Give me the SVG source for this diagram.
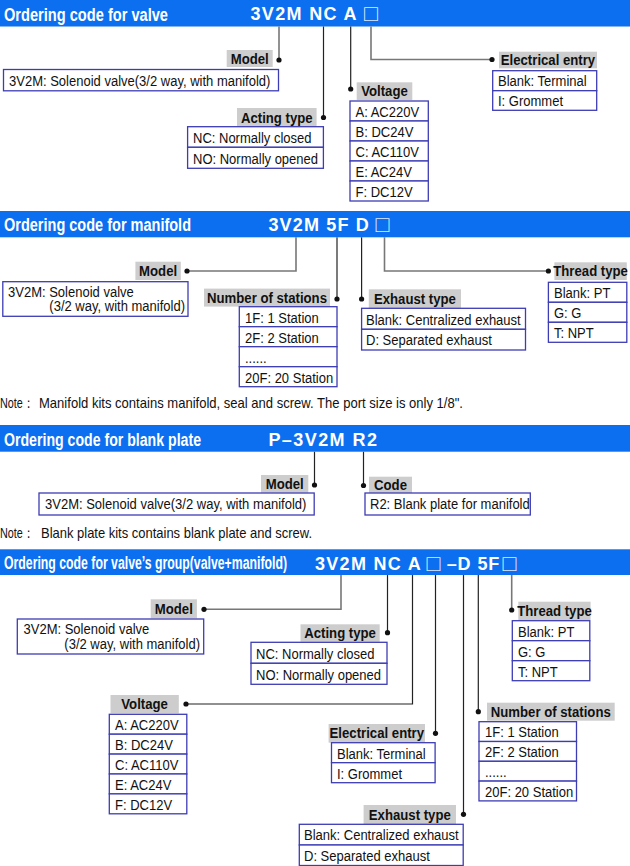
<svg xmlns="http://www.w3.org/2000/svg" width="630" height="866" viewBox="0 0 630 866">
<style>
.bar{fill:#0b6ff0}
.ttl{font-family:"Liberation Sans",Arial,sans-serif;font-weight:bold;font-size:18px;fill:#fff}
.code{font-family:"Liberation Sans",Arial,sans-serif;font-weight:bold;font-size:18px;fill:#fff}
.sq{font-family:"Liberation Sans","DejaVu Sans",sans-serif;font-size:23px;fill:#dfe8ff}
.lbg{fill:#cdcdcd}
.lt{font-family:"Liberation Sans",Arial,sans-serif;font-weight:bold;font-size:15.5px;fill:#111;text-anchor:middle;transform:scaleX(.85);transform-box:fill-box;transform-origin:50% 50%}
.cell{fill:#fff;stroke:#3c3cb4;stroke-width:1.3}
.ct{font-family:"Liberation Sans",Arial,sans-serif;font-size:15.5px;fill:#111;transform:scaleX(.84);transform-box:fill-box;transform-origin:0 50%}
.ce{text-anchor:end;transform-origin:100% 50%}
.note{font-family:"Liberation Sans",Arial,sans-serif;font-size:14.5px;fill:#111}
.lg{fill:none;stroke:#777;stroke-width:1.6}
.lk{fill:none;stroke:#222;stroke-width:1.2}
.dot{fill:#111}
</style>

<!-- Section 1 -->
<g id="header-valve">
<rect class="bar" x="0" y="0" width="630" height="26.5"/>
<text class="ttl" x="4" y="20.5" textLength="164" lengthAdjust="spacingAndGlyphs">Ordering code for valve</text>
<text class="code" x="250.5" y="20" textLength="106">3V2M NC A</text>
<text class="sq" x="364" y="21">□</text>
</g>

<g id="connectors">
<path class="lg" d="M279,26.5 V60"/>
<path class="lk" d="M323.5,26.5 V117.5"/>
<path class="lk" d="M350.7,26.5 V89"/>
<path class="lg" d="M371,26.5 V59.5 H492"/>
<circle class="dot" cx="279" cy="60" r="2.6"/>
<circle class="dot" cx="323.5" cy="117.5" r="2.6"/>
<circle class="dot" cx="350.7" cy="89" r="2.6"/>
<circle class="dot" cx="492" cy="59.5" r="2.6"/>

<path class="lg" d="M296,237.3 V271 H187"/>
<path class="lk" d="M337,237.3 V299"/>
<path class="lk" d="M361.6,237.3 V299"/>
<path class="lg" d="M384.5,237.3 V271 H548.4"/>
<circle class="dot" cx="187" cy="271" r="2.6"/>
<circle class="dot" cx="337" cy="299" r="2.6"/>
<circle class="dot" cx="361.6" cy="299" r="2.6"/>
<circle class="dot" cx="548.4" cy="271" r="2.6"/>

<path class="lk" d="M314.5,451.7 V485"/>
<path class="lk" d="M363.5,451.7 V485.5"/>
<circle class="dot" cx="314.5" cy="485" r="2.6"/>
<circle class="dot" cx="363.5" cy="485.5" r="2.6"/>

<path class="lg" d="M341,575 V609.3 H204"/>
<path class="lk" d="M387.5,575 V632.7"/>
<path class="lk" d="M412.5,575 V704 H186"/>
<path class="lk" d="M435.5,575 V733.3"/>
<path class="lk" d="M463.5,575 V814.3"/>
<path class="lk" d="M478.3,575 V711.7"/>
<path class="lg" d="M511.7,575 V610"/>
<circle class="dot" cx="204" cy="609.3" r="2.6"/>
<circle class="dot" cx="387.5" cy="632.7" r="2.6"/>
<circle class="dot" cx="186" cy="704" r="2.6"/>
<circle class="dot" cx="435.5" cy="733.3" r="2.6"/>
<circle class="dot" cx="463.5" cy="814.3" r="2.6"/>
<circle class="dot" cx="478.3" cy="711.7" r="2.6"/>
<circle class="dot" cx="511.7" cy="610" r="2.6"/>
</g>

<g id="valve-model">
<rect class="lbg" x="226.7" y="50" width="46" height="17"/>
<text class="lt" x="249.7" y="64">Model</text>
<rect class="cell" x="3.5" y="69.5" width="275" height="21.3"/>
<text class="ct" x="9" y="86">3V2M: Solenoid valve(3/2 way, with manifold)</text>
</g>

<g id="valve-acting">
<rect class="lbg" x="237" y="108" width="79.6" height="18.7"/>
<text class="lt" x="276.8" y="123">Acting type</text>
<rect class="cell" x="187.6" y="126.7" width="135.8" height="20.6"/>
<rect class="cell" x="187.6" y="147.3" width="135.8" height="21"/>
<text class="ct" x="193" y="143">NC: Normally closed</text>
<text class="ct" x="193" y="164">NO: Normally opened</text>
</g>

<g id="valve-voltage">
<rect class="lbg" x="356.7" y="82.3" width="55.6" height="17.7"/>
<text class="lt" x="384.5" y="96.5">Voltage</text>
<rect class="cell" x="350" y="101" width="78.3" height="20"/>
<rect class="cell" x="350" y="121" width="78.3" height="20"/>
<rect class="cell" x="350" y="141" width="78.3" height="20"/>
<rect class="cell" x="350" y="161" width="78.3" height="20"/>
<rect class="cell" x="350" y="181" width="78.3" height="20"/>
<text class="ct" x="355.5" y="117">A: AC220V</text>
<text class="ct" x="355.5" y="137">B: DC24V</text>
<text class="ct" x="355.5" y="157">C: AC110V</text>
<text class="ct" x="355.5" y="177">E: AC24V</text>
<text class="ct" x="355.5" y="197">F: DC12V</text>
</g>

<g id="valve-electrical">
<rect class="lbg" x="499" y="51.7" width="98" height="16.6"/>
<text class="lt" x="548" y="65.5">Electrical entry</text>
<rect class="cell" x="492.7" y="70.7" width="104" height="20"/>
<rect class="cell" x="492.7" y="90.7" width="104" height="19.6"/>
<text class="ct" x="498" y="86.5">Blank: Terminal</text>
<text class="ct" x="498" y="106">I: Grommet</text>
</g>

<!-- Section 2 -->
<g id="header-manifold">
<rect class="bar" x="0" y="211" width="630" height="26.3"/>
<text class="ttl" x="4" y="231" textLength="187" lengthAdjust="spacingAndGlyphs">Ordering code for manifold</text>
<text class="code" x="268.4" y="231" textLength="100.4">3V2M 5F D</text>
<text class="sq" x="375.5" y="232">□</text>
</g>

<g id="manifold-model">
<rect class="lbg" x="135.4" y="261.7" width="45.4" height="18.3"/>
<text class="lt" x="158.1" y="276">Model</text>
<rect class="cell" x="2.8" y="281.7" width="185.2" height="34.6"/>
<text class="ct" x="8" y="297">3V2M: Solenoid valve</text>
<text class="ct ce" x="185" y="311.5">(3/2 way, with manifold)</text>
</g>

<g id="manifold-stations">
<rect class="lbg" x="204" y="288.6" width="126" height="18"/>
<text class="lt" x="267" y="302.8">Number of stations</text>
<rect class="cell" x="239.3" y="306.7" width="97.7" height="20"/>
<rect class="cell" x="239.3" y="326.7" width="97.7" height="20"/>
<rect class="cell" x="239.3" y="346.7" width="97.7" height="20"/>
<rect class="cell" x="239.3" y="366.7" width="97.7" height="20"/>
<text class="ct" x="245" y="322.7">1F: 1 Station</text>
<text class="ct" x="245" y="342.7">2F: 2 Station</text>
<text class="ct" x="245" y="362.7">......</text>
<text class="ct" x="245" y="382.7">20F: 20 Station</text>
</g>

<g id="manifold-exhaust">
<rect class="lbg" x="368.8" y="289.3" width="92.2" height="19"/>
<text class="lt" x="414.9" y="304">Exhaust type</text>
<rect class="cell" x="361.6" y="308.3" width="163.9" height="21"/>
<rect class="cell" x="361.6" y="329.3" width="163.9" height="20.7"/>
<text class="ct" x="366" y="325">Blank: Centralized exhaust</text>
<text class="ct" x="366" y="345.5">D: Separated exhaust</text>
</g>

<g id="manifold-thread">
<rect class="lbg" x="554.4" y="262.3" width="72.4" height="17.7"/>
<text class="lt" x="590.6" y="276.5">Thread type</text>
<rect class="cell" x="548.4" y="282.3" width="78.4" height="20"/>
<rect class="cell" x="548.4" y="302.3" width="78.4" height="20"/>
<rect class="cell" x="548.4" y="322.3" width="78.4" height="20"/>
<text class="ct" x="554" y="298.3">Blank: PT</text>
<text class="ct" x="554" y="318.3">G: G</text>
<text class="ct" x="554" y="338.3">T: NPT</text>
</g>

<g id="note-manifold">
<text class="note" x="0" y="408" textLength="34" lengthAdjust="spacingAndGlyphs">Note：</text>
<text class="note" x="39" y="408" textLength="424" lengthAdjust="spacingAndGlyphs">Manifold kits contains manifold, seal and screw. The port size is only 1/8".</text>
</g>

<!-- Section 3 -->
<g id="header-blank">
<rect class="bar" x="0" y="425" width="630" height="26.7"/>
<text class="ttl" x="4" y="445.5" textLength="197" lengthAdjust="spacingAndGlyphs">Ordering code for blank plate</text>
<text class="code" x="268.4" y="446" textLength="108.5">P–3V2M R2</text>
</g>

<g id="blank-model">
<rect class="lbg" x="261" y="475" width="47.3" height="17.7"/>
<text class="lt" x="284.7" y="489">Model</text>
<rect class="cell" x="39" y="493" width="275.2" height="22"/>
<text class="ct" x="45" y="509.5">3V2M: Solenoid valve(3/2 way, with manifold)</text>
</g>

<g id="blank-code">
<rect class="lbg" x="369" y="476.7" width="43" height="17.3"/>
<text class="lt" x="390.5" y="490.5">Code</text>
<rect class="cell" x="365" y="493" width="165.3" height="22"/>
<text class="ct" x="370" y="509.5">R2: Blank plate for manifold</text>
</g>

<g id="note-blank">
<text class="note" x="0" y="537.5" textLength="34" lengthAdjust="spacingAndGlyphs">Note：</text>
<text class="note" x="41" y="537.5" textLength="271" lengthAdjust="spacingAndGlyphs">Blank plate kits contains blank plate and screw.</text>
</g>

<!-- Section 4 -->
<g id="header-group">
<rect class="bar" x="0" y="549.3" width="630" height="25.7"/>
<text class="ttl" x="4" y="569" textLength="283" lengthAdjust="spacingAndGlyphs">Ordering code for valve’s group(valve+manifold)</text>
<text class="code" x="315" y="570" textLength="105.7">3V2M NC A</text>
<text class="sq" x="426.5" y="571">□</text>
<text class="code" x="446.7" y="570" textLength="52.6">–D 5F</text>
<text class="sq" x="502.5" y="571">□</text>
</g>

<g id="group-model">
<rect class="lbg" x="150.7" y="599.3" width="46.2" height="19"/>
<text class="lt" x="173.8" y="614">Model</text>
<rect class="cell" x="17.3" y="619" width="186.4" height="35"/>
<text class="ct" x="23.5" y="634">3V2M: Solenoid valve</text>
<text class="ct ce" x="200" y="649.5">(3/2 way, with manifold)</text>
</g>

<g id="group-acting">
<rect class="lbg" x="300.5" y="624.3" width="79.2" height="17.4"/>
<text class="lt" x="340.1" y="638.5">Acting type</text>
<rect class="cell" x="251" y="642.3" width="136" height="21"/>
<rect class="cell" x="251" y="663.3" width="136" height="21"/>
<text class="ct" x="256" y="659">NC: Normally closed</text>
<text class="ct" x="256" y="680">NO: Normally opened</text>
</g>

<g id="group-thread">
<rect class="lbg" x="518.3" y="601.7" width="72.3" height="18.3"/>
<text class="lt" x="554.5" y="616">Thread type</text>
<rect class="cell" x="512.3" y="620.7" width="77.5" height="20"/>
<rect class="cell" x="512.3" y="640.7" width="77.5" height="20"/>
<rect class="cell" x="512.3" y="660.7" width="77.5" height="20"/>
<text class="ct" x="518" y="636.7">Blank: PT</text>
<text class="ct" x="518" y="656.7">G: G</text>
<text class="ct" x="518" y="676.7">T: NPT</text>
</g>

<g id="group-voltage">
<rect class="lbg" x="110.5" y="695" width="68.3" height="18.3"/>
<text class="lt" x="144.6" y="709.5">Voltage</text>
<rect class="cell" x="109.3" y="714.3" width="77.5" height="19.9"/>
<rect class="cell" x="109.3" y="734.2" width="77.5" height="19.9"/>
<rect class="cell" x="109.3" y="754.1" width="77.5" height="19.9"/>
<rect class="cell" x="109.3" y="774" width="77.5" height="19.9"/>
<rect class="cell" x="109.3" y="793.9" width="77.5" height="19.9"/>
<text class="ct" x="115" y="730.3">A: AC220V</text>
<text class="ct" x="115" y="750.2">B: DC24V</text>
<text class="ct" x="115" y="770.1">C: AC110V</text>
<text class="ct" x="115" y="790">E: AC24V</text>
<text class="ct" x="115" y="809.9">F: DC12V</text>
</g>

<g id="group-stations">
<rect class="lbg" x="487" y="702.7" width="127.7" height="18"/>
<text class="lt" x="550.8" y="717">Number of stations</text>
<rect class="cell" x="479" y="721.7" width="97.5" height="19.8"/>
<rect class="cell" x="479" y="741.5" width="97.5" height="19.8"/>
<rect class="cell" x="479" y="761.3" width="97.5" height="19.8"/>
<rect class="cell" x="479" y="781.1" width="97.5" height="19.8"/>
<text class="ct" x="485" y="737.5">1F: 1 Station</text>
<text class="ct" x="485" y="757.3">2F: 2 Station</text>
<text class="ct" x="485" y="777.1">......</text>
<text class="ct" x="485" y="796.9">20F: 20 Station</text>
</g>

<g id="group-electrical">
<rect class="lbg" x="328.6" y="724" width="96.4" height="18.7"/>
<text class="lt" x="376.8" y="738.5">Electrical entry</text>
<rect class="cell" x="331.5" y="742.7" width="103.6" height="20"/>
<rect class="cell" x="331.5" y="762.7" width="103.6" height="20"/>
<text class="ct" x="337" y="758.7">Blank: Terminal</text>
<text class="ct" x="337" y="778.7">I: Grommet</text>
</g>

<g id="group-exhaust">
<rect class="lbg" x="363.6" y="805" width="92.4" height="19"/>
<text class="lt" x="409.8" y="820">Exhaust type</text>
<rect class="cell" x="299.3" y="824.3" width="163.9" height="20.7"/>
<rect class="cell" x="299.3" y="845" width="163.9" height="20.5"/>
<text class="ct" x="304" y="840.5">Blank: Centralized exhaust</text>
<text class="ct" x="304" y="861">D: Separated exhaust</text>
</g>
</svg>
